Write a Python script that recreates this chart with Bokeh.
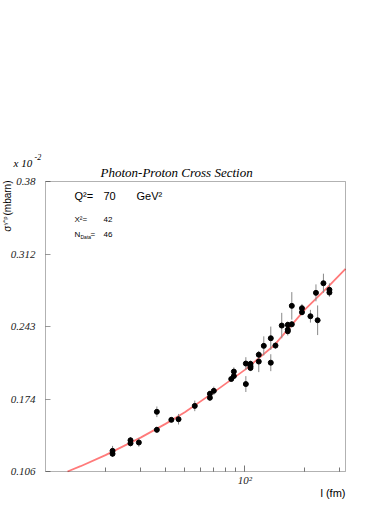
import math
from bokeh.plotting import figure
from bokeh.models import Range1d, FixedTicker, Label, ColumnDataSource, BoxAnnotation
from bokeh.embed import file_html
from bokeh.resources import INLINE

# ---- data (sigma in units of 1e-2 mbarn) ----
l_fm = [21.7, 21.7, 26.7, 26.7, 29.4, 36.2, 36.2, 42.8, 46.5, 56.1,
        66.8, 66.8, 69.9, 85.5, 88.1, 88.1, 101.2, 101.2, 106.8, 106.8,
        106.8, 117.5, 117.5, 124.5, 135.0, 135.0, 142.5, 153.2, 164.3, 164.3,
        164.3, 172.1, 172.1, 193.5, 193.5, 213.4, 227.5, 231.9, 248.0, 265.8,
        265.8]
sigma = [0.1255, 0.1227, 0.1355, 0.1327, 0.1334, 0.1624, 0.1454, 0.1548, 0.1554, 0.1680,
         0.1794, 0.1757, 0.1822, 0.1934, 0.1962, 0.2004, 0.2080, 0.1886, 0.2077, 0.2055,
         0.2038, 0.2163, 0.2099, 0.2247, 0.2319, 0.2088, 0.2250, 0.2439, 0.2446, 0.2400,
         0.2385, 0.2625, 0.2451, 0.2603, 0.2565, 0.2527, 0.2748, 0.2489, 0.2839, 0.2777,
         0.2751]
sigma_err = [0.0047, 0.0030, 0.0030, 0.0030, 0.0040, 0.0050, 0.0030, 0.0020, 0.0050, 0.0050,
             0.0030, 0.0030, 0.0040, 0.0020, 0.0030, 0.0040, 0.0060, 0.0075, 0.0030, 0.0030,
             0.0030, 0.0030, 0.0100, 0.0090, 0.0110, 0.0080, 0.0030, 0.0120, 0.0030, 0.0040,
             0.0040, 0.0130, 0.0030, 0.0040, 0.0030, 0.0060, 0.0080, 0.0140, 0.0090, 0.0060,
             0.0040]

fit_l = [12.9, 15, 20, 30, 40, 50, 70, 100, 140, 200, 260, 320]
fit_sigma = [0.106, 0.111, 0.1215, 0.138, 0.151, 0.162, 0.181, 0.202, 0.225, 0.259, 0.280, 0.2975]

x_lo, x_hi = 10.0, 320.0
y_lo, y_hi = 0.106, 0.38
y_ticks = [0.106, 0.1745, 0.243, 0.3115, 0.38]
y_tick_labels = ["0.106", "0.174", "0.243", "0.312", "0.38"]
x_major_ticks = [100]
x_major_labels = ["10\u00b2"]
x_minor_ticks = [20, 30, 40, 50, 60, 70, 80, 90, 200, 300]

title_text = "Photon-Proton Cross Section"
x_title = "l (fm)"
q2_value = "70"
chi2_value = "42"
ndata_value = "46"

# ---- layout (canvas pixels) ----
W, H = 384, 500
BOX_L, BOX_R, BOX_T, BOX_B = 45, 345, 181, 471

# the frame fills the whole canvas; the plot box is a sub-region of it
kx = (math.log10(x_hi) - math.log10(x_lo)) / (BOX_R - BOX_L)
ky = (y_hi - y_lo) / (BOX_B - BOX_T)
xr = Range1d(10 ** (math.log10(x_lo) - BOX_L * kx), 10 ** (math.log10(x_hi) + (W - BOX_R) * kx))
yr = Range1d(y_lo - (H - BOX_B) * ky, y_hi + BOX_T * ky)

p = figure(width=W, height=H, x_axis_type="log", x_range=xr, y_range=yr,
           output_backend="svg", toolbar_location=None,
           min_border=0, min_border_left=0, min_border_right=0,
           min_border_top=0, min_border_bottom=0)
p.grid.visible = False
p.outline_line_color = None
p.background_fill_color = "white"
p.border_fill_color = "white"

p.add_layout(BoxAnnotation(left=x_lo, right=x_hi, bottom=y_lo, top=y_hi,
                           fill_alpha=0, line_color="black", line_width=1, level="overlay"))

xa = p.xaxis[0]
xa.fixed_location = y_lo
xa.ticker = FixedTicker(ticks=x_major_ticks, minor_ticks=x_minor_ticks)
xa.major_label_overrides = {t: s for t, s in zip(x_major_ticks, x_major_labels)}
xa.axis_line_color = None
xa.major_tick_in = 6
xa.major_tick_out = 0
xa.minor_tick_in = 4
xa.minor_tick_out = 0
xa.major_tick_line_color = "#777777"
xa.minor_tick_line_color = "#777777"
xa.major_label_text_font = "Liberation Serif"
xa.major_label_text_font_style = "italic"
xa.major_label_text_font_size = "11px"
xa.major_label_text_color = "#222222"
xa.major_label_standoff = 2

ya = p.yaxis[0]
ya.fixed_location = x_lo
ya.ticker = FixedTicker(ticks=y_ticks, minor_ticks=[])
ya.major_label_overrides = {t: s for t, s in zip(y_ticks, y_tick_labels)}
ya.axis_line_color = None
ya.major_tick_in = 5
ya.major_tick_out = 0
ya.major_tick_line_color = "#999999"
ya.minor_tick_line_color = None
ya.major_label_text_font = "Liberation Serif"
ya.major_label_text_font_style = "italic"
ya.major_label_text_font_size = "11px"
ya.major_label_text_color = "#222222"
ya.major_label_standoff = 10

# fit curve
p.line(fit_l, fit_sigma, line_color="#ff4d4d", line_alpha=0.75, line_width=1.8)

# data with error bars
src = ColumnDataSource(dict(
    x=l_fm, y=sigma,
    lo=[s - e for s, e in zip(sigma, sigma_err)],
    hi=[s + e for s, e in zip(sigma, sigma_err)]))
p.segment(x0="x", y0="lo", x1="x", y1="hi", source=src, line_color="#888888", line_width=1)
p.scatter(x="x", y="y", source=src, marker="circle", size=5, color="black")

# ---- text annotations (canvas pixels, y measured from the top) ----
def page(text, px, py, size, font="Liberation Sans", style="normal",
         align="left", baseline="alphabetic", angle=0.0, color="black"):
    p.add_layout(Label(x=px, y=py, x_units="canvas", y_units="canvas", text=text,
                       text_font=font, text_font_style=style, text_font_size=size,
                       text_align=align, text_baseline=baseline, angle=angle,
                       text_color=color))

SERIF = "Liberation Serif"
page(title_text, 100, 172, "13px", font=SERIF, style="italic")
page("x 10", 13, 162, "11px", font=SERIF, style="italic")
page("-2", 34, 156, "8px", font=SERIF, style="italic")

page("Q\u00b2=", 74, 195, "11px")
page(q2_value, 103, 195, "11px")
page("GeV\u00b2", 136, 195, "11px")
page("X\u00b2=", 74, 219, "8px")
page(chi2_value, 103, 219, "8px")
page("N", 74, 234, "8px")
page("Data", 80, 236, "5px")
page("=", 90, 234, "8px")
page(ndata_value, 103, 234, "8px")

page(x_title, 345, 492, "11px", align="right")

# rotated y title: sigma^{gamma*p} (mbarn)
page("(mbarn)", 7, 180, "10px", align="right", baseline="middle", angle=math.pi / 2)
page("\u03b3*p", 4, 216, "6px", align="right", baseline="middle", angle=math.pi / 2)
page("\u03c3", 7, 225, "10px", align="right", baseline="middle", angle=math.pi / 2)

open("out.html", "w").write(file_html(p, INLINE))
